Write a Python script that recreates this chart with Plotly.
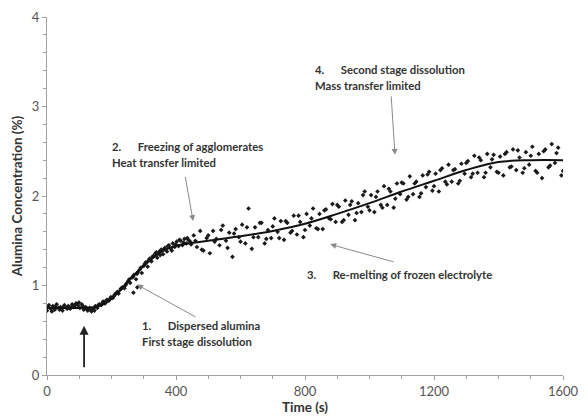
import plotly.graph_objects as go

# ---- data ----
time_early = [0, 6, 12, 18, 24, 30, 36, 42, 48, 54, 60, 66, 72, 78, 84, 90, 96, 102, 108, 114,
              120, 126, 132, 138, 144, 150, 156, 162, 168, 174, 180, 186, 192, 198, 204, 210, 216,
              222, 228, 234, 240, 246, 252, 258, 264, 270, 276, 282, 288, 294, 300, 306, 312, 318,
              324, 330, 336, 342, 348, 354, 360, 366, 372, 378, 384, 390, 396, 402, 408, 414, 420,
              426, 432, 438, 444, 268, 280]
conc_early = [0.72, 0.78, 0.74, 0.77, 0.73, 0.79, 0.75, 0.76, 0.72, 0.78, 0.75, 0.77, 0.74, 0.79,
              0.76, 0.80, 0.78, 0.75, 0.79, 0.73, 0.76, 0.72, 0.75, 0.71, 0.74, 0.77, 0.75, 0.79,
              0.78, 0.82, 0.80, 0.84, 0.83, 0.87, 0.86, 0.90, 0.92, 0.91, 0.96, 0.98, 0.97, 1.02,
              1.05, 1.03, 1.09, 1.12, 1.07, 1.15, 1.18, 1.14, 1.22, 1.26, 1.21, 1.30, 1.27, 1.33,
              1.36, 1.31, 1.38, 1.40, 1.35, 1.42, 1.38, 1.45, 1.41, 1.47, 1.43, 1.49, 1.44, 1.50,
              1.45, 1.52, 1.47, 1.51, 1.49, 0.92, 0.98]

time_early_b = [3, 15, 27, 39, 51, 63, 75, 87, 99, 111, 123, 135, 147, 159, 171, 183, 195, 207,
                219, 231, 243, 255, 267, 279, 291, 303, 315, 327, 339, 351, 363, 375, 387, 399,
                411, 423, 435, 447]
conc_early_b = [0.76, 0.71, 0.77, 0.73, 0.76, 0.74, 0.76, 0.78, 0.81, 0.77, 0.74, 0.73, 0.72,
                0.78, 0.80, 0.83, 0.85, 0.88, 0.93, 0.97, 1.00, 1.07, 1.10, 1.13, 1.20, 1.24,
                1.28, 1.32, 1.37, 1.34, 1.41, 1.44, 1.39, 1.46, 1.51, 1.48, 1.53, 1.46]

time_late_a = [455, 465, 475, 485, 495, 505, 515, 525, 535, 545, 555, 565, 575, 585, 595, 605,
               615, 625, 635, 645, 655, 665, 675, 685, 695, 705, 715, 725, 735, 745, 755, 765,
               775, 785, 795, 805, 815, 825, 835, 845, 855, 865, 875, 885, 895, 905, 915, 925,
               935, 945, 955, 965, 975, 985, 995, 1005, 1015, 1025, 1035, 1045, 1055, 1065, 1075,
               1085, 1095, 1105, 1115, 1125, 1135, 1145, 1155, 1165, 1175, 1185, 1195, 1205, 1215,
               1225, 1235, 1245, 1255, 1265, 1275, 1285, 1295, 1305, 1315, 1325, 1335, 1345, 1355,
               1365, 1375, 1385, 1395, 1405, 1415, 1425, 1435, 1445, 1455, 1465, 1475, 1485, 1495,
               1505, 1515, 1525, 1535, 1545, 1555, 1565, 1575, 1585, 1595]
conc_late_a = [1.56, 1.43, 1.61, 1.39, 1.53, 1.36, 1.61, 1.52, 1.45, 1.67, 1.50, 1.59, 1.32, 1.63,
               1.54, 1.68, 1.47, 1.86, 1.41, 1.65, 1.54, 1.70, 1.47, 1.62, 1.53, 1.75, 1.60, 1.72,
               1.51, 1.70, 1.59, 1.78, 1.57, 1.71, 1.54, 1.80, 1.67, 1.86, 1.64, 1.80, 1.63, 1.85,
               1.75, 1.91, 1.71, 1.88, 1.71, 1.95, 1.79, 1.94, 1.73, 1.92, 1.82, 2.05, 1.88, 2.01,
               1.82, 2.05, 1.90, 2.11, 1.90, 2.05, 1.87, 2.14, 2.02, 2.14, 1.96, 2.22, 2.02, 2.16,
               1.99, 2.23, 2.10, 2.27, 2.06, 2.25, 2.05, 2.31, 2.16, 2.35, 2.16, 2.30, 2.14, 2.36,
               2.25, 2.39, 2.21, 2.45, 2.26, 2.40, 2.21, 2.47, 2.32, 2.46, 2.27, 2.44, 2.23, 2.49,
               2.32, 2.52, 2.29, 2.43, 2.26, 2.49, 2.35, 2.55, 2.28, 2.47, 2.20, 2.52, 2.32, 2.58,
               2.37, 2.54, 2.23]

time_late_b = [460, 480, 500, 520, 540, 560, 580, 600, 620, 640, 660, 680, 700, 720, 740, 760,
               780, 800, 820, 840, 860, 880, 900, 920, 940, 960, 980, 1000, 1020, 1040, 1060,
               1080, 1100, 1120, 1140, 1160, 1180, 1200, 1220, 1240, 1260, 1280, 1300, 1320,
               1340, 1360, 1380, 1400, 1420, 1440, 1460, 1480, 1500, 1520, 1540, 1560, 1580, 1600]
conc_late_b = [1.50, 1.40, 1.56, 1.49, 1.62, 1.42, 1.58, 1.49, 1.65, 1.54, 1.70, 1.52, 1.66, 1.53,
               1.72, 1.61, 1.78, 1.62, 1.75, 1.63, 1.84, 1.74, 1.90, 1.73, 1.90, 1.81, 2.01, 1.84,
               1.99, 1.87, 2.08, 1.97, 2.15, 1.99, 2.14, 2.03, 2.24, 2.11, 2.29, 2.13, 2.29, 2.17,
               2.37, 2.25, 2.43, 2.26, 2.41, 2.26, 2.47, 2.33, 2.51, 2.31, 2.45, 2.26, 2.50, 2.34,
               2.48, 2.28]

fit_time = [0, 50, 100, 150, 180, 220, 260, 300, 340, 380, 420, 460, 500, 600, 700, 800, 900,
            1000, 1100, 1200, 1300, 1400, 1500, 1600]
fit_conc = [0.75, 0.75, 0.75, 0.76, 0.80, 0.92, 1.08, 1.22, 1.34, 1.42, 1.46, 1.48, 1.50, 1.55,
            1.61, 1.69, 1.80, 1.92, 2.05, 2.17, 2.29, 2.38, 2.40, 2.40]

x_ticks = [0, 400, 800, 1200, 1600]
y_ticks = [0, 1, 2, 3, 4]

all_t = time_early + time_early_b + time_late_a + time_late_b
all_c = conc_early + conc_early_b + conc_late_a + conc_late_b

fig = go.Figure()
fig.add_trace(go.Scatter(x=all_t, y=all_c, mode="markers",
                         marker=dict(symbol="diamond", size=3.6, color="#1a1a1a"),
                         showlegend=False))
fig.add_trace(go.Scatter(x=fit_time, y=fit_conc, mode="lines",
                         line=dict(color="#111111", width=2, shape="spline"),
                         showlegend=False))

FONT = "Lato, Liberation Sans, sans-serif"
txt_font = dict(family=FONT, size=11.3, color="#333333")
sp = "\u00a0" * 6
labels = [
    (288, 0.55, "<b>1." + sp + "Dispersed alumina</b>"),
    (288, 0.37, "<b>First stage dissolution</b>"),
    (195, 2.55, "<b>2." + sp + "Freezing of agglomerates</b>"),
    (195, 2.37, "<b>Heat transfer limited</b>"),
    (800, 1.12, "<b>3." + sp + "Re-melting of frozen electrolyte</b>"),
    (825, 3.41, "<b>4." + sp + "Second stage dissolution</b>"),
    (825, 3.24, "<b>Mass transfer limited</b>"),
]
for x, y, t in labels:
    fig.add_annotation(x=x, y=y, text=t, showarrow=False, xanchor="left", yanchor="middle",
                       font=txt_font)

arrows = [
    (465, 0.64, 279, 1.01),
    (428, 2.23, 453, 1.72),
    (1079, 1.26, 878, 1.46),
    (1067, 3.13, 1079, 2.46),
]
for x0, y0, x1, y1 in arrows:
    fig.add_annotation(x=x1, y=y1, ax=x0, ay=y0, axref="x", ayref="y", xref="x", yref="y",
                       text="", showarrow=True, arrowhead=2, arrowsize=1.2, arrowwidth=1,
                       arrowcolor="#8a8a8a")

fig.add_annotation(x=115, y=0.55, ax=115, ay=0.07, axref="x", ayref="y", xref="x", yref="y",
                   text="", showarrow=True, arrowhead=2, arrowsize=1, arrowwidth=1.8,
                   arrowcolor="#222222")

axis_font = dict(family=FONT, size=13, color="#555555")
title_font = dict(family=FONT, size=13.5, color="#333333")
fig.update_layout(
    width=588, height=418,
    margin=dict(l=47, r=25, t=17, b=43),
    paper_bgcolor="white", plot_bgcolor="white",
    xaxis=dict(range=[0, 1600], tickvals=x_ticks, ticktext=[str(v) for v in x_ticks],
               automargin=False,
               showgrid=False, zeroline=False, showline=True, linecolor="#a0a0a0",
               ticks="outside", ticklen=4, tickcolor="#a0a0a0", tickfont=axis_font,
               minor=dict(dtick=100, ticks="outside", ticklen=3, tickcolor="#a0a0a0"),
               title=dict(text="<b>Time (s)</b>", standoff=0, font=title_font)),
    yaxis=dict(range=[0, 4], tickvals=y_ticks, ticktext=[str(v) for v in y_ticks],
               automargin=False,
               showgrid=False, zeroline=False, showline=True, linecolor="#a0a0a0",
               ticks="outside", ticklen=4, tickcolor="#a0a0a0", tickfont=axis_font,
               minor=dict(dtick=0.2, ticks="outside", ticklen=3, tickcolor="#a0a0a0"),
               title=dict(text="<b>Alumina Concentration (%)</b>", standoff=6,
                          font=title_font)),
)

fig.write_html("out.html")
